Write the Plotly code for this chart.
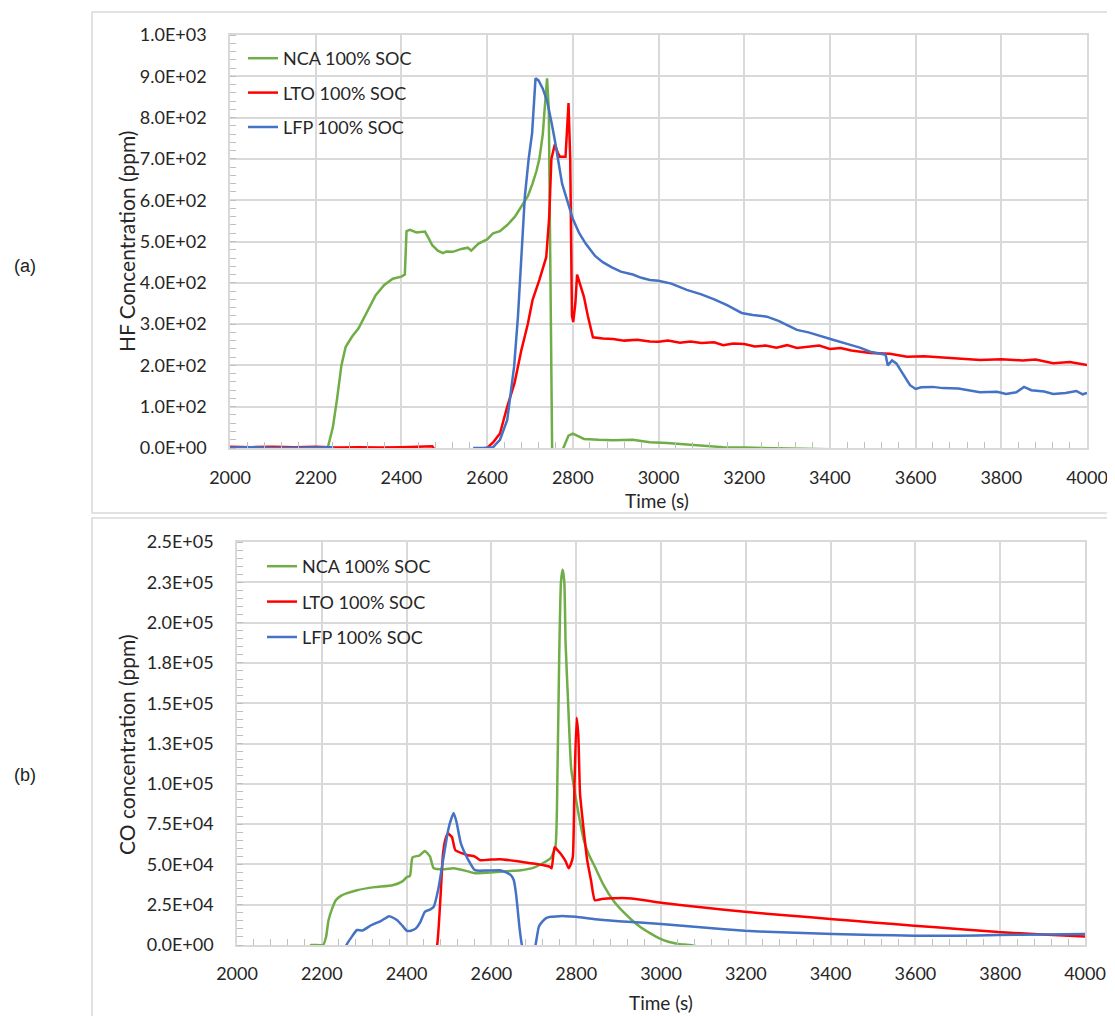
import plotly.graph_objects as go

# ---------------- (a) HF concentration (ppm) ----------------
hf_nca_t = [2000, 2220, 2228, 2240, 2250, 2260, 2270, 2285, 2300, 2320, 2340, 2360, 2380, 2400,
            2408, 2412, 2420, 2435, 2455, 2465, 2472, 2485, 2497, 2505, 2520, 2540, 2555, 2563,
            2580, 2600, 2614, 2630, 2647, 2665, 2680, 2695, 2706, 2715, 2722, 2730, 2735, 2740,
            2744, 2748, 2752, 2770, 2778, 2790, 2800, 2810, 2826, 2860, 2894, 2940, 2980, 3020,
            3066, 3110, 3151, 3200, 3250, 3300, 3400, 4000]
hf_nca = [-10, -10, 0, 50, 120, 200, 245, 270, 290, 330, 370, 395, 410, 415,
          420, 525, 528, 522, 524, 505, 491, 478, 472, 476, 475, 482, 485, 478,
          495, 505, 520, 525, 540, 560, 585, 610, 640, 670, 700, 760, 830, 895,
          820, 400, -30, -30, 0, 30, 35, 30, 22, 20, 19, 20, 14, 12,
          8, 5, 2, 1, 0, 0, -3, -5]

hf_lto_t = [2000, 2050, 2100, 2150, 2200, 2250, 2300, 2350, 2400, 2450, 2465, 2472, 2478, 2485,
            2590, 2600, 2615, 2630, 2647, 2664, 2680, 2695, 2706, 2722, 2738, 2745, 2750, 2758,
            2765, 2770, 2783, 2786, 2790, 2794, 2798, 2801, 2806, 2810, 2818, 2826, 2835, 2847,
            2870, 2894, 2920, 2950, 2980, 3000, 3022, 3050, 3075, 3100, 3130, 3151, 3175, 3200,
            3225, 3250, 3275, 3300, 3323, 3350, 3375, 3400, 3425, 3450, 3494, 3540, 3580, 3620,
            3650, 3700, 3751, 3800, 3850, 3880, 3921, 3960, 4000]
hf_lto = [3, 2, 3, 2, 3, 1, 2, 1, 2, 3, 5, 4, -5, -20,
          -20, 0, 15, 35, 100, 157, 237, 300, 358, 407, 462, 560, 700, 735,
          715, 705, 705, 760, 835, 700, 320, 305, 350, 420, 390, 366, 320, 268,
          265, 264, 260, 262, 258, 257, 260, 255, 258, 254, 256, 249, 253, 252,
          246, 248, 243, 249, 242, 245, 248, 240, 242, 236, 230, 228, 221, 222,
          220, 218, 213, 215, 212, 214, 205, 208, 201]

hf_lfp_t = [2000, 2050, 2100, 2150, 2200, 2240, 2255, 2560, 2570, 2590, 2614, 2630, 2647, 2663,
            2672, 2680, 2688, 2697, 2705, 2713, 2720, 2730, 2740, 2750, 2758, 2775, 2790, 2800,
            2815, 2830, 2852, 2870, 2890, 2912, 2940, 2960, 2980, 3000, 3030, 3066, 3100, 3130,
            3160, 3194, 3220, 3253, 3280, 3323, 3350, 3380, 3407, 3440, 3470, 3494, 3524, 3530,
            3535, 3545, 3555, 3570, 3587, 3600, 3613, 3640, 3664, 3700, 3750, 3790, 3811, 3835,
            3853, 3870, 3900, 3921, 3950, 3975, 3990, 4000]
hf_lfp = [1, 2, 0, 1, 1, 2, -20, -20, 0, 0, 2, 20, 68, 197,
          318, 479, 608, 700, 762, 895, 890, 870, 840, 790, 746, 640, 590, 555,
          520, 495, 465, 450, 438, 427, 420, 412, 407, 405, 398, 383, 372, 360,
          346, 327, 322, 318, 308, 286, 280, 270, 262, 252, 243, 233, 228, 226,
          200, 212, 205, 180, 152, 143, 147, 148, 145, 144, 135, 136, 131, 135,
          148, 140, 137, 131, 133, 138, 130, 133]

# ---------------- (b) CO concentration (ppm) ----------------
co_nca_t = [2000, 2165, 2175, 2203, 2210, 2216, 2225, 2233, 2245, 2258, 2283, 2325, 2367, 2390,
            2400, 2408, 2414, 2430, 2443, 2455, 2464, 2490, 2511, 2540, 2561, 2590, 2620, 2650,
            2670, 2700, 2721, 2740, 2751, 2756, 2760, 2764, 2768, 2772, 2775, 2781, 2788, 2797,
            2808, 2818, 2830, 2844, 2865, 2887, 2910, 2931, 2952, 2974, 2995, 3017, 3040, 3068,
            3100, 4000]
co_nca = [-3000, -3000, 0, 0, 5000, 15500, 23000, 27800, 30500, 32000, 34000, 35900, 37100, 39500,
          42000, 43000, 54400, 55500, 58300, 55000, 47600, 47000, 47600, 46000, 44500, 44800, 45400, 46000,
          46400, 48000, 50700, 54000, 60800, 110000, 180000, 225000, 233000, 225000, 187000, 150000, 110000, 94000,
          78000, 65000, 56000, 48500, 37000, 27800, 20800, 15500, 11000, 7400, 4300, 2000, 700, 0,
          -1500, -3000]

co_lto_t = [2000, 2465, 2472, 2480, 2486, 2492, 2498, 2503, 2507, 2515, 2530, 2545, 2560, 2574,
            2600, 2620, 2645, 2670, 2700, 2738, 2742, 2749, 2757, 2766, 2775, 2782, 2787, 2792,
            2796, 2801, 2805, 2809, 2815, 2826, 2835, 2844, 2860, 2887, 2931, 3000, 3100, 3198,
            3300, 3406, 3500, 3597, 3700, 3795, 3900, 4000]
co_lto = [-5000, -5000, 0, 30000, 56900, 66000, 69300, 68000, 67000, 58800, 57000, 55700, 55000, 52600,
          53000, 53200, 52500, 51600, 50500, 48500, 47600, 60600, 58500, 55700, 52000, 47600, 50000, 54600,
          100000, 141000, 130000, 94000, 78000, 52600, 40000, 27800, 28500, 29000, 28900, 26200, 23300, 20600,
          18300, 16000, 14000, 12000, 10000, 8000, 6500, 5200]

co_lfp_t = [2000, 2250, 2258, 2271, 2283, 2296, 2317, 2340, 2359, 2377, 2390, 2401, 2412, 2422,
            2432, 2443, 2455, 2464, 2475, 2486, 2498, 2505, 2511, 2518, 2528, 2545, 2561, 2590,
            2620, 2635, 2646, 2653, 2658, 2662, 2666, 2672, 2680, 2698, 2704, 2712, 2720, 2729,
            2740, 2760, 2775, 2800, 2844, 2900, 3000, 3100, 3198, 3300, 3406, 3500, 3597, 3700,
            3795, 3900, 4000]
co_lfp = [-5000, -5000, 0, 5200, 9300, 9000, 12400, 15000, 17900, 15500, 12000, 8800, 9000, 10300,
          14000, 20600, 22000, 23700, 35000, 52600, 71200, 78000, 81900, 76000, 63000, 53000, 46400, 46200,
          46400, 45000, 43300, 40000, 32000, 22000, 11400, 0, -5000, -5000, 0, 11400, 14500, 16700,
          17500, 17900, 17900, 17500, 16000, 14800, 13000, 10800, 8800, 7700, 6800, 6200, 5800, 5700,
          6200, 6500, 6800]

series_names = ["NCA 100% SOC", "LTO 100% SOC", "LFP 100% SOC"]
hf_ticks = [0, 100, 200, 300, 400, 500, 600, 700, 800, 900, 1000]
hf_ticktext = ["0.0E+00", "1.0E+02", "2.0E+02", "3.0E+02", "4.0E+02", "5.0E+02",
               "6.0E+02", "7.0E+02", "8.0E+02", "9.0E+02", "1.0E+03"]
co_ticks = [0, 25000, 50000, 75000, 100000, 125000, 150000, 175000, 200000, 225000, 250000]
co_ticktext = ["0.0E+00", "2.5E+04", "5.0E+04", "7.5E+04", "1.0E+05", "1.3E+05",
               "1.5E+05", "1.8E+05", "2.0E+05", "2.3E+05", "2.5E+05"]

GREEN, RED, BLUE = "#70ad47", "#ff0000", "#4472c4"
colors = [GREEN, RED, BLUE]
OFF = 8                      # page body margin of the exported html
W, H = 1115 - OFF, 1016 - OFF
FONT = "Lato, 'Open Sans', sans-serif"
TXT = "#262626"
GRID = "#d9d9d9"

fig = go.Figure()
for name, c, t, v in zip(series_names, colors, [hf_nca_t, hf_lto_t, hf_lfp_t], [hf_nca, hf_lto, hf_lfp]):
    fig.add_trace(go.Scatter(x=t, y=v, mode="lines", name=name, line=dict(color=c, width=2.5),
                             xaxis="x", yaxis="y", legend="legend", legendgroup="a" + name))
for name, c, t, v in zip(series_names, colors, [co_nca_t, co_lto_t, co_lfp_t], [co_nca, co_lto, co_lfp]):
    fig.add_trace(go.Scatter(x=t, y=v, mode="lines", name=name,
                             line=dict(color=c, width=2.5, shape="spline", smoothing=0.5),
                             xaxis="x2", yaxis="y2", legend="legend2", legendgroup="b" + name))


def px_x(p):
    """window pixel -> paper fraction"""
    return (p - OFF) / W


def px_y(p):
    return 1 - (p - OFF) / H


xcommon = dict(range=[2000, 4000], tick0=2000, dtick=200, showgrid=True, gridcolor=GRID, gridwidth=1.5,
               showline=True, linecolor=GRID, linewidth=1.5, mirror=True, ticks="", zeroline=False,
               automargin=False,
               tickfont=dict(family=FONT, size=18, color=TXT),
               minor=dict(ticks="inside", dtick=40, ticklen=6, tickcolor="#bfbfbf", tickwidth=1.2, showgrid=False))
ycommon = dict(showgrid=True, gridcolor=GRID, gridwidth=1.5, showline=True, linecolor=GRID, linewidth=1.5,
               mirror=True, ticks="", zeroline=False, automargin=False,
               tickfont=dict(family=FONT, size=18, color=TXT), ticklabelstandoff=18)

fig.update_layout(
    width=W, height=H, margin=dict(l=0, r=0, t=0, b=0, autoexpand=False),
    paper_bgcolor="white", plot_bgcolor="white",
    font=dict(family=FONT, size=18, color=TXT),
    xaxis=dict(domain=[px_x(230), px_x(1087)], anchor="y", ticklabelstandoff=13, **xcommon),
    yaxis=dict(domain=[px_y(448), px_y(35)], anchor="x", range=[0, 1000], tickvals=hf_ticks,
               ticktext=hf_ticktext,
               minor=dict(ticks="inside", dtick=20, ticklen=6, tickcolor="#bfbfbf", tickwidth=1.2, showgrid=False),
               **ycommon),
    xaxis2=dict(domain=[px_x(237), px_x(1085)], anchor="y2", ticklabelstandoff=12, **xcommon),
    yaxis2=dict(domain=[px_y(945), px_y(542)], anchor="x2", range=[0, 250000], tickvals=co_ticks,
                ticktext=co_ticktext,
                minor=dict(ticks="inside", dtick=5000, ticklen=6, tickcolor="#bfbfbf", tickwidth=1.2, showgrid=False),
                **ycommon),
    legend=dict(x=px_x(243), y=px_y(40), xanchor="left", yanchor="top", bgcolor="rgba(0,0,0,0)",
                tracegroupgap=8, font=dict(family=FONT, size=18, color=TXT)),
    legend2=dict(x=px_x(262), y=px_y(548), xanchor="left", yanchor="top", bgcolor="rgba(0,0,0,0)",
                 tracegroupgap=9, font=dict(family=FONT, size=18, color=TXT)),
    showlegend=True,
)

# panel frames (open on the right / bottom edge as in the original figure)
fig.add_shape(type="path", xref="paper", yref="paper",
              path=f"M 1 {px_y(12)} L {px_x(92)} {px_y(12)} L {px_x(92)} {px_y(513)} L 1 {px_y(513)}",
              line=dict(color=GRID, width=1.5), layer="below")
fig.add_shape(type="path", xref="paper", yref="paper",
              path=f"M 1 {px_y(518)} L {px_x(92)} {px_y(518)} L {px_x(92)} 0",
              line=dict(color=GRID, width=1.5), layer="below")

ann = [
    dict(text="HF Concentration (ppm)", x=px_x(126), y=px_y(242), textangle=-90, size=21),
    dict(text="Time (s)", x=px_x(657), y=px_y(500), textangle=0, size=19),
    dict(text="CO concentration (ppm)", x=px_x(126), y=px_y(745), textangle=-90, size=21),
    dict(text="Time (s)", x=px_x(661), y=px_y(1002), textangle=0, size=19),
]
for a in ann:
    fig.add_annotation(text=a["text"], x=a["x"], y=a["y"], textangle=a["textangle"],
                       xref="paper", yref="paper", showarrow=False, xanchor="center", yanchor="middle",
                       borderpad=0, font=dict(family=FONT, size=a["size"], color=TXT))
for lab, yy in [("(a)", 266), ("(b)", 775)]:
    fig.add_annotation(text=lab, xref="paper", yref="paper", x=px_x(25), y=px_y(yy), showarrow=False,
                       xanchor="center", yanchor="middle",
                       font=dict(family="Liberation Sans, Arial, sans-serif", size=18, color="#222222"))

fig.write_html("out.html")
